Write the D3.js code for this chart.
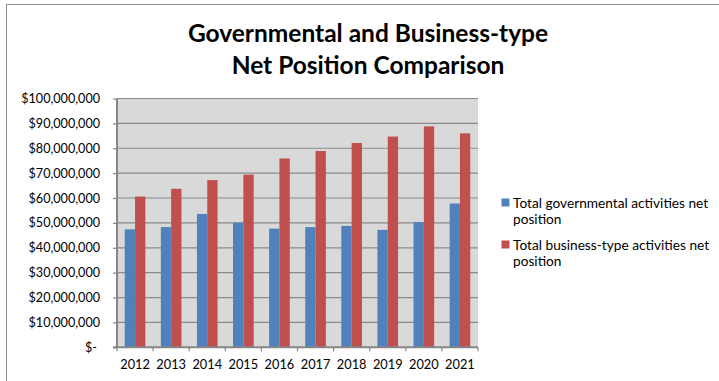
<!DOCTYPE html>
<html>
<head>
<meta charset="utf-8">
<script src="https://cdn.jsdelivr.net/npm/d3@7"></script>
<style>
  html, body { margin: 0; padding: 0; background: #fff; }
  svg { display: block; }
  text { font-family: Lato, "Open Sans", sans-serif; fill: #000; }
</style>
</head>
<body>
<svg id="chart" width="719" height="381"></svg>
<script>
// Fiscal years on the category axis
const years = ["2012", "2013", "2014", "2015", "2016", "2017", "2018", "2019", "2020", "2021"];

// Net position, in dollars
const governmental = [47400000, 48300000, 53600000, 50100000, 47700000, 48300000, 48800000, 47200000, 50300000, 57800000];
const businessType = [60600000, 63700000, 67200000, 69400000, 75900000, 78900000, 82100000, 84700000, 88800000, 86000000];

const seriesNames = [
  ["Total governmental activities net", "position"],
  ["Total business-type activities net", "position"]
];
const seriesColors = ["#4f81bd", "#c0504d"];

const titleLines = ["Governmental and Business-type", "Net Position Comparison"];
const yTicks = [0, 10000000, 20000000, 30000000, 40000000, 50000000, 60000000, 70000000, 80000000, 90000000, 100000000];

const svg = d3.select("#chart");

// chart-area border (runs off the right and bottom edges)
svg.append("rect")
  .attr("x", 6.5).attr("y", 4.5)
  .attr("width", 760).attr("height", 420)
  .attr("fill", "#fff")
  .attr("stroke", "#8c8c8c").attr("stroke-width", 1);

// plot area
const plot = { left: 117, right: 478, top: 98.5, bottom: 347.3 };

const x = d3.scaleBand()
  .domain(years)
  .range([plot.left, plot.right])
  .paddingInner(1.5 / 3.5)
  .paddingOuter(1.5 / 7);

const xSeries = d3.scaleBand()
  .domain([0, 1])
  .range([0, x.bandwidth()]);

const y = d3.scaleLinear()
  .domain([0, 100000000])
  .range([plot.bottom, plot.top]);

svg.append("rect")
  .attr("x", plot.left).attr("y", plot.top)
  .attr("width", plot.right - plot.left)
  .attr("height", plot.bottom - plot.top)
  .attr("fill", "#d9d9d9");

// horizontal gridlines
svg.append("g")
  .selectAll("line")
  .data(yTicks.filter(d => d > 0))
  .join("line")
  .attr("x1", plot.left).attr("x2", plot.right)
  .attr("y1", d => y(d)).attr("y2", d => y(d))
  .attr("stroke", "#8a8a8a").attr("stroke-width", 1.2);

// bars
const groups = svg.append("g")
  .selectAll("g")
  .data(years.map((yr, i) => ({ yr, vals: [governmental[i], businessType[i]] })))
  .join("g")
  .attr("transform", d => `translate(${x(d.yr)},0)`);

groups.selectAll("rect")
  .data(d => d.vals.map((v, s) => ({ v, s })))
  .join("rect")
  .attr("x", d => xSeries(d.s))
  .attr("width", xSeries.bandwidth())
  .attr("y", d => y(d.v))
  .attr("height", d => y(0) - y(d.v))
  .attr("fill", d => seriesColors[d.s]);

// value axis
const fmt = d3.format(",");
const yAxis = svg.append("g")
  .attr("transform", `translate(${plot.left},0)`)
  .call(d3.axisLeft(y)
    .tickValues(yTicks)
    .tickSize(4)
    .tickPadding(13)
    .tickFormat(d => d === 0 ? "$-" : "$" + fmt(d)));
yAxis.select(".domain").remove();
yAxis.selectAll(".tick line").attr("stroke", "#868686").attr("stroke-width", 1.2);
yAxis.selectAll(".tick text")
  .style("font-size", "12.6px")
  .attr("fill", "#000")
  .attr("dx", d => d === 0 ? -3 : 0);

// category axis: labels centred, ticks at category boundaries
const xAxis = svg.append("g")
  .attr("transform", `translate(0,${plot.bottom})`)
  .call(d3.axisBottom(x).tickSize(0).tickPadding(12.5));
xAxis.select(".domain").remove();
xAxis.selectAll(".tick text").style("font-size", "12.8px").attr("fill", "#000");

const bounds = years.map(yr => x(yr) - x.step() * x.paddingInner() / 2)
  .concat([plot.right]);
svg.append("g")
  .selectAll("line")
  .data(bounds)
  .join("line")
  .attr("x1", d => d).attr("x2", d => d)
  .attr("y1", plot.bottom).attr("y2", plot.bottom + 4)
  .attr("stroke", "#868686").attr("stroke-width", 1.2);

// axis lines
svg.append("line")
  .attr("x1", plot.left).attr("x2", plot.left)
  .attr("y1", plot.top).attr("y2", plot.bottom)
  .attr("stroke", "#868686").attr("stroke-width", 2);
svg.append("line")
  .attr("x1", plot.left - 4).attr("x2", plot.right)
  .attr("y1", plot.bottom).attr("y2", plot.bottom)
  .attr("stroke", "#868686").attr("stroke-width", 2);

// title
svg.append("text")
  .attr("text-anchor", "middle")
  .style("font-size", "24.5px")
  .style("font-weight", "bold")
  .selectAll("tspan")
  .data(titleLines)
  .join("tspan")
  .attr("x", 368)
  .attr("y", (d, i) => 41.5 + i * 32.5)
  .text(d => d);

// legend
const legend = svg.append("g");
seriesNames.forEach((lines, i) => {
  const top = 198.5 + i * 42;
  legend.append("rect")
    .attr("x", 501.5).attr("y", top)
    .attr("width", 8).attr("height", 8)
    .attr("fill", seriesColors[i]);
  legend.append("text")
    .style("font-size", "13.7px")
    .selectAll("tspan")
    .data(lines)
    .join("tspan")
    .attr("x", 513)
    .attr("y", (d, j) => top + 9.7 + j * 16.2)
    .text(d => d);
});
</script>
</body>
</html>
